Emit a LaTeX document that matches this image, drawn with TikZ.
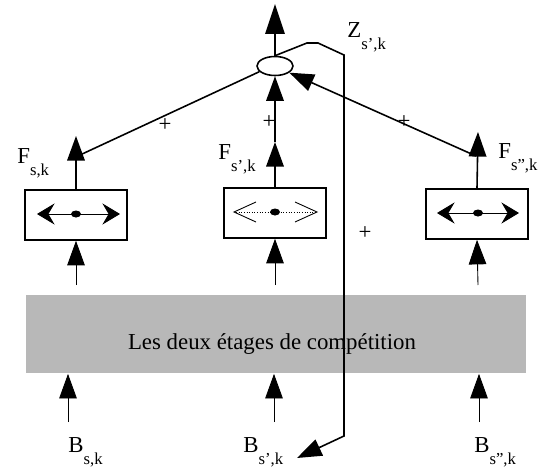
\documentclass[tikz,border=0pt]{standalone}
\usepackage{fontspec}
\setmainfont{Liberation Serif}
\usetikzlibrary{arrows.meta, calc, positioning, shapes.geometric}

\newcommand{\lbl}[2]{#1\raisebox{-0.55em}{\fontsize{9.5}{10}\selectfont #2}}

\begin{document}
\begin{tikzpicture}[x=0.02cm, y=-0.02cm,
    every node/.style={font=\fontsize{13}{15}\selectfont},
    bigtip/.style={-{Triangle[length=14pt, width=10pt]}},
    toptip/.style={-{Triangle[length=17pt, width=11pt]}},
    unit/.style={draw, line width=0.9pt, minimum width=2.04cm, minimum height=1.0cm, inner sep=0pt},
    conn/.style={line width=0.9pt},
    thin/.style={line width=0.5pt},
    sign/.style={font=\fontsize{13}{14}\selectfont, inner sep=0pt}]
  \useasboundingbox (0,0) rectangle (542,470);
  % competition stage
  \node[fill=black!28, minimum width=10cm, minimum height=1.58cm, inner sep=0pt] (stage) at (276,334) {};
  \node (stagetxt) at (272,344) {Les deux \'etages de comp\'etition};
  % units
  \node[unit] (lbox) at (76,215) {};
  \node[unit] (mbox) at (275,213) {};
  \node[unit] (rbox) at (477,214) {};
  % inner arrows
  \draw[thin, {Stealth[length=10pt, width=12pt, inset=3.5pt]}-{Stealth[length=10pt, width=12pt, inset=3.5pt]}] (37,214) -- (120,214);
  \draw[thin, {Stealth[length=10pt, width=12pt, inset=3.5pt]}-{Stealth[length=10pt, width=12pt, inset=3.5pt]}] (437,213) -- (519,213);
  \draw[thin, densely dotted] (236,212) -- (316,212);
  \draw[thin] (256,202) -- (234,212) -- (256,222);
  \draw[thin] (295,202) -- (317,212) -- (295,222);
  \fill (76,214) ellipse (5 and 3.5);
  \fill (275,212) ellipse (5 and 3.5);
  \fill (478,213) ellipse (5 and 3.5);
  % summing point
  \node[draw, ellipse, line width=0.9pt, minimum width=0.72cm, minimum height=0.38cm, inner sep=0pt] (sum) at (275,66) {};
  \coordinate (top) at (275,4);
  \draw[conn, toptip] (sum.north) -- (top);
  % outputs of the units
  \coordinate (lf) at (76,136);
  \coordinate (mf) at (275,142);
  \coordinate (rf) at (478,132);
  \draw[conn, bigtip] (lbox.north) -- (lf);
  \draw[conn, bigtip] (mbox.north) -- (mf);
  \draw[conn, bigtip] (rbox.north) -- (rf);
  \coordinate (lj) at (80,155);
  \coordinate (rj) at (476,156);
  \draw[conn] (lj) -- (sum.200);
  \draw[conn, bigtip] (mf) -- (sum.south);
  \draw[conn, bigtip] (rj) -- (sum.-25);
  % feedback Z
  \coordinate (zb) at (297,458);
  \draw[conn, -{Triangle[length=14pt, width=10pt]}] (sum.north) -- (307,43) -- (318,43) -- (344,55) -- (344,436) -- (zb);
  % inputs
  \coordinate (lin) at (68,422);
  \coordinate (min) at (274,422);
  \coordinate (rin) at (479,422);
  \draw[thin, bigtip] (lin) -- (lin |- stage.south);
  \draw[thin, bigtip] (min) -- (min |- stage.south);
  \draw[thin, bigtip] (rin) -- (rin |- stage.south);
  \draw[thin, bigtip] (76,285) -- (lbox.south);
  \draw[thin, bigtip] (275,285) -- (mbox.south);
  \draw[thin, bigtip] (478,285) -- (rbox.south);
  % labels
  \node[anchor=base west, inner sep=0pt] (fl) at (17,163) {\lbl{F}{s,k}};
  \node[anchor=base west, inner sep=0pt] (fm) at (218,159) {\lbl{F}{s',k}};
  \node[anchor=base west, inner sep=0pt] (fr) at (498,158) {\lbl{F}{s'',k}};
  \node[anchor=base west, inner sep=0pt] (zl) at (347,37) {\lbl{Z}{s',k}};
  \node[anchor=base west, inner sep=0pt] (bl) at (68,452) {\lbl{B}{s,k}};
  \node[anchor=base west, inner sep=0pt] (bm) at (243,452) {\lbl{B}{s',k}};
  \node[anchor=base west, inner sep=0pt] (br) at (474,452) {\lbl{B}{s'',k}};
  \node[sign] (p1) at (165,125) {+};
  \node[sign] (p2) at (269,122) {+};
  \node[sign] (p3) at (404,122) {+};
  \node[sign] (p4) at (365,233) {+};
\end{tikzpicture}
\end{document}
